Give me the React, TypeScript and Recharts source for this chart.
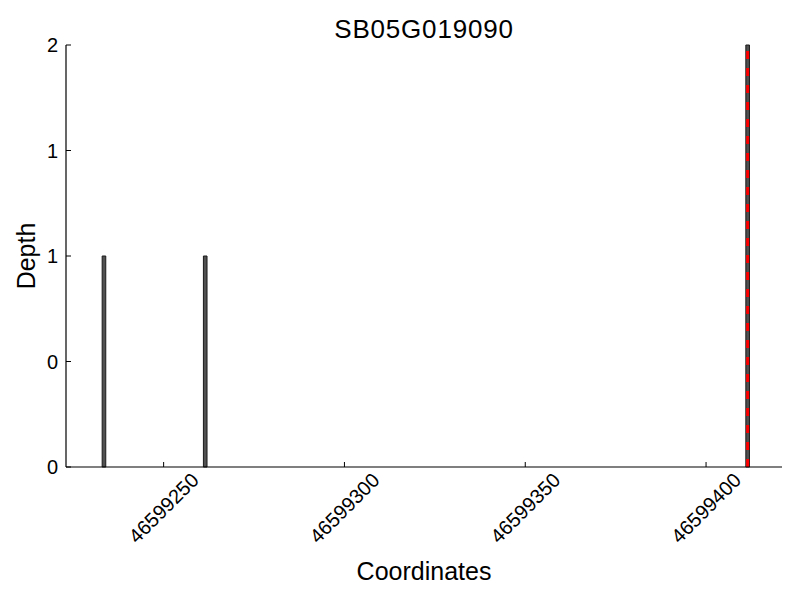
import React from 'react';
import { ComposedChart, XAxis, YAxis, ReferenceArea, ReferenceLine, Scatter, Label } from 'recharts';

const title = 'SB05G019090';
const xLabel = 'Coordinates';
const yLabel = 'Depth';
const readStarts = [46599233, 46599261, 46599411];
const readDepths = [1, 1, 2];
const markerPositions = [46599411.5];
const xTicks = [46599250, 46599300, 46599350, 46599400];
const yTicks = [0, 0.5, 1, 1.5, 2];
const xDomain = [46599223, 46599421];
const yDomain = [0, 2];

const data = readStarts.map((s, i) => ({ start: s, end: s + 1, depth: readDepths[i] }));

const FONT = '"Liberation Sans", Arial, Helvetica, sans-serif';

const XTick = (props: any) => {
  const { x, y, payload } = props;
  const cy = y + 36;
  return (
    <text
      x={x}
      y={cy}
      transform={`rotate(-45, ${x}, ${cy})`}
      textAnchor="middle"
      dominantBaseline="central"
      fontSize={20}
      fontFamily={FONT}
      fill="#000"
    >
      {payload.value}
    </text>
  );
};

const YLabel = (p: any) => {
  const vb = p.viewBox;
  const cx = vb.x + 26;
  const cy = vb.y + vb.height / 2;
  return (
    <text
      x={cx}
      y={cy}
      transform={`rotate(-90, ${cx}, ${cy})`}
      textAnchor="middle"
      dominantBaseline="central"
      fontSize={25}
      fontFamily={FONT}
      fill="#000"
    >
      {yLabel}
    </text>
  );
};

export default function App() {
  return (
    <div style={{ position: 'absolute', left: 0, top: 0, width: 800, height: 600, fontFamily: FONT, background: '#fff' }}>
      <div
        style={{
          position: 'absolute',
          left: 224,
          width: 400,
          top: 16,
          textAlign: 'center',
          fontSize: 26,
          letterSpacing: '0.8px',
          lineHeight: '26px',
          color: '#000',
        }}
      >
        {title}
      </div>
      <ComposedChart width={800} height={600} data={data} margin={{ top: 45, right: 18, bottom: 0, left: 0 }}>
        <XAxis
          dataKey="start"
          type="number"
          domain={xDomain}
          ticks={xTicks}
          allowDataOverflow
          height={133}
          axisLine={{ stroke: '#000', strokeWidth: 1.2 }}
          tickLine={{ stroke: '#000' }}
          tickSize={-5}
          tickMargin={10}
          tick={<XTick />}
          interval={0}
        >
          <Label value={xLabel} position="insideBottom" offset={20} fontSize={25} fill="#000" />
        </XAxis>
        <YAxis
          type="number"
          domain={yDomain}
          ticks={yTicks}
          width={66}
          axisLine={{ stroke: '#000', strokeWidth: 1.2 }}
          tickLine={{ stroke: '#000' }}
          tickSize={-5}
          tickMargin={13}
          tick={{ fontSize: 20, fill: '#000' }}
          tickFormatter={(v: number) => String(Math.floor(v))}
          interval={0}
        >
          <Label content={YLabel} />
        </YAxis>
        {data.map((d, i) => (
          <ReferenceArea
            key={`bar-${i}`}
            x1={d.start}
            x2={d.end}
            y1={0}
            y2={d.depth}
            fill="#505050"
            fillOpacity={1}
            stroke="#1a1a1a"
            strokeWidth={1}
          />
        ))}
        {markerPositions.map((m, i) => (
          <ReferenceLine key={`m-${i}`} x={m} stroke="#ff0000" strokeWidth={3} strokeDasharray="8 9" />
        ))}
        <Scatter dataKey="depth" isAnimationActive={false} shape={() => <g />} />
      </ComposedChart>
    </div>
  );
}
